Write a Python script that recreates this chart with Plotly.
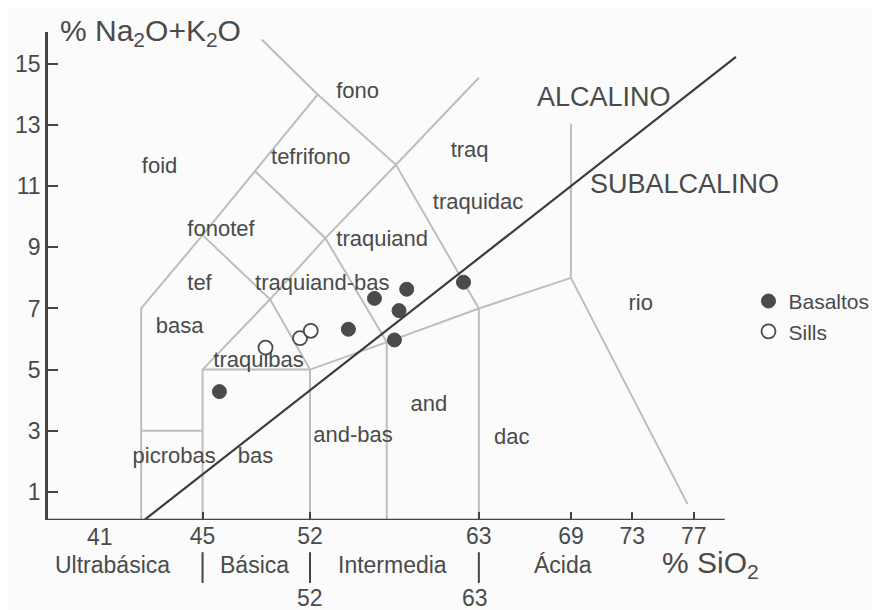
import plotly.graph_objects as go

# sample points (SiO2 wt%, Na2O+K2O wt%)
basaltos_sio2 = [46.1, 54.5, 56.2, 57.5, 57.8, 58.3, 62.0]
basaltos_alc = [4.28, 6.32, 7.33, 5.97, 6.93, 7.63, 7.86]
sills_sio2 = [49.1, 51.35, 52.05]
sills_alc = [5.72, 6.03, 6.27]

# TAS field boundaries (Le Bas et al.), as polylines
fields = [
    [(41, 0), (41, 7), (45, 9.4), (48.4, 11.5), (52.5, 14), (57.6, 11.7), (63, 7)],
    [(41, 3), (45, 3)],
    [(45, 0), (45, 5), (49.4, 7.3), (53, 9.3), (57.6, 11.7), (63, 14.55)],
    [(45, 5), (52, 5), (57, 5.9), (63, 7), (69, 8), (76.6, 0.6)],
    [(52, 0), (52, 5), (49.4, 7.3), (45, 9.4)],
    [(57, 0), (57, 5.9), (53, 9.3), (48.4, 11.5)],
    [(63, 0), (63, 7)],
    [(69, 8), (69, 13.05)],
    [(52.5, 14), (48.85, 15.8)],
]
divide_sio2 = [41, 79.75]
divide_alc = [0, 15.23]

field_names = ["foid", "fono", "tefrifono", "traq", "traquidac", "fonotef", "traquiand",
               "tef", "traquiand-bas", "basa", "traquibas", "rio", "and", "and-bas",
               "dac", "picrobas", "bas"]
field_x = [42.2, 55.1, 52.05, 62.4, 62.95, 46.2, 56.7, 44.8, 52.8, 43.5, 48.65, 73.55,
           59.75, 54.8, 65.15, 43.15, 48.45]
field_y = [11.62, 14.08, 11.92, 12.12, 10.45, 9.55, 9.24, 7.8, 7.8, 6.39, 5.25, 7.14,
           3.84, 2.8, 2.76, 2.14, 2.14]

xtick_vals = [45, 52, 63, 69, 73, 77]
ytick_vals = [1, 3, 5, 7, 9, 11, 13, 15]

# SiO2 class scale under the axis
class_names = ["Ultrabásica", "Básica", "Intermedia", "Ácida"]
class_x = [39.1, 48.4, 57.4, 68.5]
class_limits = [45, 52, 63]

grey = "#bdbdbd"
dark = "#454545"
txt = "#4a4a4a"
font = "Liberation Sans, Arial, sans-serif"

fx, fy = [], []
for line in fields:
    for x, y in line:
        fx.append(x)
        fy.append(y)
    fx.append(None)
    fy.append(None)

fig = go.Figure()
fig.add_trace(go.Scatter(x=fx, y=fy, mode="lines", line=dict(color=grey, width=2),
                         showlegend=False, hoverinfo="skip"))
fig.add_trace(go.Scatter(x=divide_sio2, y=divide_alc, mode="lines",
                         line=dict(color="#3c3c3c", width=2.2),
                         showlegend=False, hoverinfo="skip"))
fig.add_trace(go.Scatter(x=field_x, y=field_y, mode="text", text=field_names,
                         textfont=dict(size=22, color=txt, family=font),
                         showlegend=False, hoverinfo="skip"))
fig.add_trace(go.Scatter(x=basaltos_sio2, y=basaltos_alc, mode="markers", name="Basaltos",
                         marker=dict(size=14, color="#4a4a4a", line=dict(color="#4a4a4a", width=1))))
fig.add_trace(go.Scatter(x=sills_sio2, y=sills_alc, mode="markers", name="Sills",
                         marker=dict(size=14, color="white", line=dict(color="#4a4a4a", width=1.8))))

xr = [34.93, 80.34]
yr = [0.08, 16.045]

# x axis line drawn by hand so it stops short of the plot edge
fig.add_shape(type="line", xref="paper", yref="y", x0=0, x1=(79.02 - xr[0]) / (xr[1] - xr[0]),
              y0=yr[0], y1=yr[0], line=dict(color=dark, width=2.5))

for xv in class_limits:
    fig.add_shape(type="line", xref="x", yref="paper", x0=xv, x1=xv, y0=-0.066, y1=-0.129,
                  line=dict(color=dark, width=2))


def label(t, x, y, size=23, xanchor="center"):
    fig.add_annotation(text=t, x=x, y=y, xref="x", yref="paper", xanchor=xanchor,
                       yanchor="middle", showarrow=False,
                       font=dict(size=size, color=txt, family=font))


for t, x in zip(class_names, class_x):
    label(t, x, -0.092)
label("41", 38.3, -0.035)
label("52", 52.0, -0.16)
label("63", 62.75, -0.16)
label("% SiO<sub>2</sub>", 74.8, -0.092, size=30, xanchor="left")

fig.add_annotation(text="% Na<sub>2</sub>O+K<sub>2</sub>O", x=0.014, y=1.0, xref="paper",
                   yref="paper", xanchor="left", yanchor="middle", showarrow=False,
                   font=dict(size=30, color=txt, family=font))
fig.add_annotation(text="ALCALINO", x=71.15, y=13.92, showarrow=False,
                   font=dict(size=27, color=txt, family=font))
fig.add_annotation(text="SUBALCALINO", x=76.43, y=11.07, showarrow=False,
                   font=dict(size=27, color=txt, family=font))

# the page body has an 8px margin, so the figure is laid out 8px up/left;
# extra width on the right keeps the legend from squeezing the plot
fig.update_layout(
    width=900, height=602,
    margin=dict(l=40, r=163, t=24, b=90),
    paper_bgcolor="#fbfbfb", plot_bgcolor="#fbfbfb",
    font=dict(family=font, color=txt),
    xaxis=dict(range=xr, showgrid=False, zeroline=False, showline=False,
               automargin=False, tickvals=xtick_vals, ticks="inside", ticklen=8,
               tickwidth=2, tickcolor=dark, tickfont=dict(size=23, color=txt)),
    yaxis=dict(range=yr, showgrid=False, zeroline=False, showline=True,
               automargin=False, linecolor=dark, linewidth=2.5, tickvals=ytick_vals,
               ticks="inside", ticklen=10, tickwidth=2, tickcolor=dark,
               tickfont=dict(size=23, color=txt)),
    legend=dict(x=1.005, y=0.49, xanchor="left", yanchor="top", bgcolor="rgba(0,0,0,0)",
                font=dict(size=21, color=txt, family=font), itemsizing="trace",
                tracegroupgap=0),
)

fig.write_html("out.html")
